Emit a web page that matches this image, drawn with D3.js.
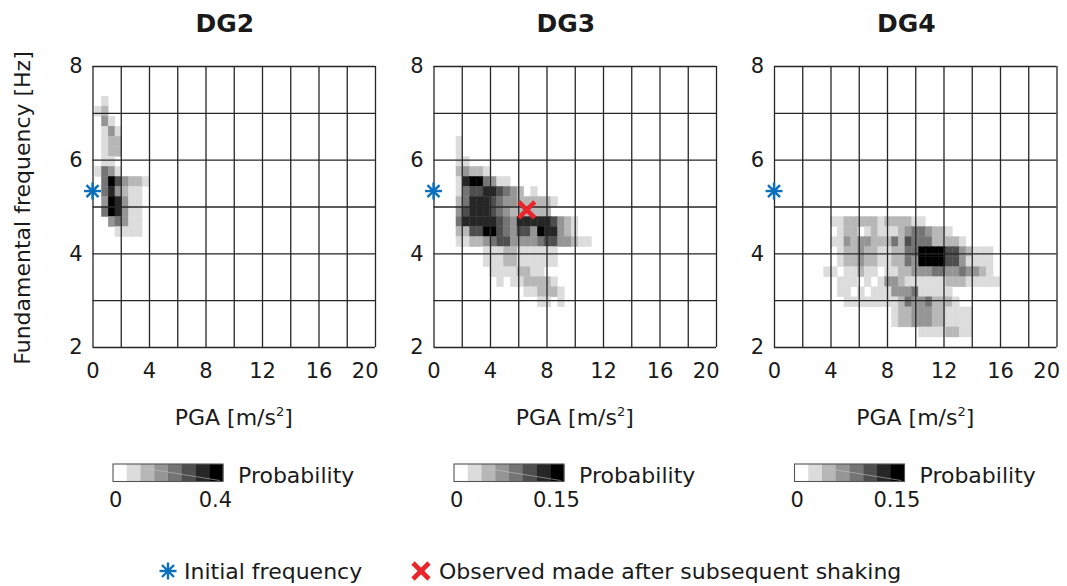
<!DOCTYPE html>
<html><head><meta charset="utf-8">
<script src="https://cdn.jsdelivr.net/npm/d3@7"></script>
<style>
body{margin:0;background:#fff}
svg{display:block}
text{font-family:"DejaVu Sans",sans-serif;fill:#1a1a1a}
</style>
</head><body><svg id="chart" width="1067" height="586"></svg>
<script>
// ---------- data ----------
const panelTitles = ["DG2", "DG3", "DG4"];
const xTicks = [0, 4, 8, 12, 16, 20];
const xGrid = [0, 2, 4, 6, 8, 10, 12, 14, 16, 18, 20];
const yTicks = [2, 4, 6, 8];
const yGrid = [2, 3, 4, 5, 6, 7, 8];
const pgaDomain = [0, 20];
const freqDomain = [2, 8];
// histogram bins
const pgaBinOrigin = 0.15, pgaBinWidth = 0.48;
const freqBinOrigin = 2, freqBinHeight = 6 / 28;
// 8 probability classes (0 = white)
const grayLevels = ["#ffffff", "#dcdcdc", "#b7b7b7", "#959595", "#747474", "#4e4e4e", "#262626", "#000000"];
const colorbarMax = [0.4, 0.15, 0.15];
const colorbarTickLabels = [["0", "0.4"], ["0", "0.15"], ["0", "0.15"]];
const initialFrequency = { pga: 0, f: 5.33 };
const observedAfterShaking = { pga: 6.6, f: 4.93 };
const legendLabels = ["Initial frequency", "Observed made after subsequent shaking"];

// rows: [frequency bin index, first PGA bin index, probability classes per PGA bin]
const dg2Cells = [
  [24, 1, "1"],
  [23, 0, "12"],
  [22, 1, "31"],
  [21, 1, "131"],
  [20, 1, "122"],
  [19, 1, "122"],
  [18, 1, "11"],
  [17, 0, "1431"],
  [16, 1, "4753221"],
  [15, 1, "463211"],
  [14, 1, "376311"],
  [13, 1, "476311"],
  [12, 2, "34311"],
  [11, 3, "1111"]
];
const dg3Cells = [
  [20, 3, "1"],
  [19, 3, "1"],
  [18, 3, "11"],
  [17, 3, "23221"],
  [16, 3, "16774311"],
  [15, 3, "145566543201"],
  [14, 3, "246665433222221"],
  [13, 3, "35666543222222"],
  [12, 3, "466666543666665321"],
  [11, 3, "225577543553766321"],
  [10, 3, "11223455333345533211"],
  [9, 7, "11122111111"],
  [8, 7, "11122111111"],
  [7, 8, "11112211"],
  [6, 9, "101122221"],
  [5, 13, "112221"],
  [4, 15, "1101"]
];
const dg4Cells = [
  [12, 8, "11222221222211"],
  [11, 9, "12201211123443221"],
  [10, 8, "11323322242544422221"],
  [9, 9, "12232211224477775532111"],
  [8, 9, "12232211224377775531111"],
  [7, 7, "1101121101122333443343321"],
  [6, 9, "111010133211111122211111"],
  [5, 9, "11010111333411111"],
  [4, 10, "11111111243342221"],
  [3, 17, "122333221111"],
  [2, 17, "122333221111"],
  [1, 21, "11112211"]
];
const panelCells = [dg2Cells, dg3Cells, dg4Cells];
const showObserved = [false, true, false];

// ---------- layout ----------
const svg = d3.select("#chart");
const plotLefts = [92.5, 433.5, 774];
const plotW = 282.5, plotTop = 66, plotBottom = 347;
const gridColor = "#262626";
const blue = "#0a70bd", red = "#e8262b";

function asterisk(g, cx, cy, r) {
  const a = g.append("g").attr("transform", `translate(${cx},${cy})`);
  [0, 45, 90, 135].forEach(ang => {
    const rad = ang * Math.PI / 180;
    a.append("line")
      .attr("x1", -r * Math.cos(rad)).attr("y1", -r * Math.sin(rad))
      .attr("x2", r * Math.cos(rad)).attr("y2", r * Math.sin(rad))
      .attr("stroke", blue).attr("stroke-width", 2.4);
  });
}
function cross(g, cx, cy, r) {
  const a = g.append("g").attr("transform", `translate(${cx},${cy})`);
  a.append("line").attr("x1", -r).attr("y1", -r).attr("x2", r).attr("y2", r)
    .attr("stroke", red).attr("stroke-width", 4.6);
  a.append("line").attr("x1", -r).attr("y1", r).attr("x2", r).attr("y2", -r)
    .attr("stroke", red).attr("stroke-width", 4.6);
}

panelTitles.forEach((title, p) => {
  const left = plotLefts[p];
  const x = d3.scaleLinear().domain(pgaDomain).range([left, left + plotW]);
  const y = d3.scaleLinear().domain(freqDomain).range([plotBottom, plotTop]);
  const g = svg.append("g");

  // heat map cells
  const cells = [];
  panelCells[p].forEach(([j, i0, s]) => {
    s.split("").forEach((ch, k) => {
      const lvl = +ch;
      if (lvl > 0) cells.push({ i: i0 + k, j: j, lvl: lvl });
    });
  });
  g.append("g").selectAll("rect").data(cells).join("rect")
    .attr("x", d => x(pgaBinOrigin + d.i * pgaBinWidth))
    .attr("y", d => y(freqBinOrigin + (d.j + 1) * freqBinHeight))
    .attr("width", d => x(pgaBinOrigin + (d.i + 1) * pgaBinWidth) - x(pgaBinOrigin + d.i * pgaBinWidth))
    .attr("height", d => y(freqBinOrigin + d.j * freqBinHeight) - y(freqBinOrigin + (d.j + 1) * freqBinHeight))
    .attr("fill", d => grayLevels[d.lvl])
    .attr("stroke", d => grayLevels[d.lvl]).attr("stroke-width", 0.4);

  // grid
  const gx = g.append("g").attr("transform", `translate(0,${plotBottom})`)
    .call(d3.axisBottom(x).tickValues(xGrid).tickSize(-(plotBottom - plotTop)).tickFormat(""));
  gx.select(".domain").remove();
  gx.selectAll("line").attr("stroke", gridColor).attr("stroke-width", 1.3);
  const gy = g.append("g").attr("transform", `translate(${left},0)`)
    .call(d3.axisLeft(y).tickValues(yGrid).tickSize(-plotW).tickFormat(""));
  gy.select(".domain").remove();
  gy.selectAll("line").attr("stroke", gridColor).attr("stroke-width", 1.3);

  // tick labels
  const ax = g.append("g").attr("transform", `translate(0,${plotBottom})`)
    .call(d3.axisBottom(x).tickValues(xTicks).tickSize(0).tickPadding(16).tickFormat(d3.format("d")));
  ax.select(".domain").remove();
  ax.selectAll("text").attr("font-size", 21).attr("font-family", "DejaVu Sans").attr("fill", "#1a1a1a");
  ax.selectAll("text").filter(d => d === pgaDomain[1]).attr("text-anchor", "end").attr("x", 3);
  const ay = g.append("g").attr("transform", `translate(${left},0)`)
    .call(d3.axisLeft(y).tickValues(yTicks).tickSize(0).tickPadding(10).tickFormat(d3.format("d")));
  ay.select(".domain").remove();
  ay.selectAll("text").attr("font-size", 21).attr("font-family", "DejaVu Sans").attr("fill", "#1a1a1a");

  // title
  g.append("text").attr("x", left + plotW / 2 - 9).attr("y", 32)
    .attr("text-anchor", "middle").attr("font-size", 25).attr("font-weight", "bold").text(title);

  // x label
  const xl = g.append("text").attr("x", left + plotW / 2).attr("y", 425)
    .attr("text-anchor", "middle").attr("font-size", 22);
  xl.append("tspan").text("PGA [m/s");
  xl.append("tspan").attr("font-size", 13).attr("dy", -9).text("2");
  xl.append("tspan").attr("dy", 9).text("]");

  // markers
  asterisk(g, x(initialFrequency.pga), y(initialFrequency.f), 8.5);
  if (showObserved[p]) cross(g, x(observedAfterShaking.pga), y(observedAfterShaking.f), 8);

  // colorbar
  const barL = left + 20.5, barW = 110, barT = 464, barH = 17.5;
  const band = d3.scaleBand().domain(d3.range(grayLevels.length)).range([barL, barL + barW]);
  const cb = g.append("g");
  cb.selectAll("rect").data(grayLevels).join("rect")
    .attr("x", (d, i) => band(i)).attr("y", barT)
    .attr("width", band.bandwidth() + 0.3).attr("height", barH)
    .attr("fill", d => d);
  cb.append("line").attr("x1", barL + barW * 0.27).attr("y1", barT + 4)
    .attr("x2", barL + barW * 0.97).attr("y2", barT + barH - 1)
    .attr("stroke", "#c8c8c8").attr("stroke-width", 0.8).attr("opacity", 0.7);
  cb.append("rect").attr("x", barL).attr("y", barT).attr("width", barW).attr("height", barH)
    .attr("fill", "none").attr("stroke", "#555").attr("stroke-width", 1.1);
  const m = colorbarMax[p];
  const cbScale = d3.scaleLinear().domain([-0.025 * m / 0.915, m + 0.07 * m / 0.915]).range([barL, barL + barW]);
  cb.selectAll("text.cbt").data([0, m]).join("text").attr("class", "cbt")
    .attr("x", d => cbScale(d)).attr("y", 507)
    .attr("text-anchor", "middle").attr("font-size", 21)
    .text((d, i) => colorbarTickLabels[p][i]);
  cb.append("text").attr("x", barL + barW + 15).attr("y", 483)
    .attr("font-size", 22).text("Probability");
});

// y label
svg.append("text").attr("transform", "translate(30,208) rotate(-90)")
  .attr("text-anchor", "middle").attr("font-size", 22).text("Fundamental frequency [Hz]");

// legend
const lg = svg.append("g");
asterisk(lg, 168, 571, 8.5);
lg.append("text").attr("x", 184).attr("y", 579).attr("font-size", 22).text(legendLabels[0]);
cross(lg, 421, 571, 8);
lg.append("text").attr("x", 439).attr("y", 579).attr("font-size", 22).text(legendLabels[1]);
</script>
</body></html>
